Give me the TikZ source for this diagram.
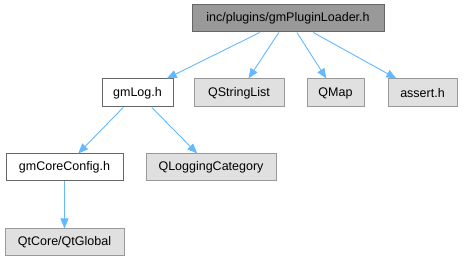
\documentclass[tikz,border=0pt]{standalone}
\usepackage{fontspec}
\setmainfont{Liberation Sans}
\usetikzlibrary{arrows.meta}
\definecolor{edgeblue}{HTML}{63B8FF}
\definecolor{topfill}{HTML}{999999}
\definecolor{topdraw}{HTML}{666666}
\definecolor{grayfill}{HTML}{E0E0E0}
\definecolor{graydraw}{HTML}{999999}
\begin{document}
\begin{tikzpicture}[x=1pt,y=-1pt,
  box/.style={draw, line width=1pt, inner sep=0pt, font=\fontsize{12.5}{15}\selectfont, anchor=center},
  mainbox/.style={box, fill=topfill, draw=topdraw},
  whitebox/.style={box, fill=white, draw=topdraw},
  graybox/.style={box, fill=grayfill, draw=graydraw},
  edge/.style={draw=edgeblue, line width=0.9pt, -{Stealth[length=10pt,width=8pt,inset=0pt]}, edgeblue}
]
\useasboundingbox (0,0) rectangle (463,261);
\node[mainbox, minimum width=192pt, minimum height=27pt] (top) at (288,18.5) {inc/plugins/gmPluginLoader.h};
\node[whitebox, minimum width=71pt, minimum height=28pt] (gmlog) at (137.5,93) {gmLog.h};
\node[graybox, minimum width=90pt, minimum height=28pt] (qsl) at (239,93) {QStringList};
\node[graybox, minimum width=57pt, minimum height=28pt] (qmap) at (335.5,93) {QMap};
\node[graybox, minimum width=69pt, minimum height=28pt] (assert) at (422.5,93) {assert.h};
\node[whitebox, minimum width=117pt, minimum height=27pt] (core) at (64.5,167.5) {gmCoreConfig.h};
\node[graybox, minimum width=130pt, minimum height=27pt] (qlog) at (211,167.5) {QLoggingCategory};
\node[graybox, minimum width=119pt, minimum height=27pt] (qtg) at (64.5,242.5) {QtCore/QtGlobal};
\draw[edge] (top) -- (gmlog);
\draw[edge] (top) -- (qsl);
\draw[edge] (top) -- (qmap);
\draw[edge] (top) -- (assert);
\draw[edge] (gmlog) -- (core);
\draw[edge] (gmlog) -- (qlog);
\draw[edge] (core) -- (qtg);
\end{tikzpicture}
\end{document}
